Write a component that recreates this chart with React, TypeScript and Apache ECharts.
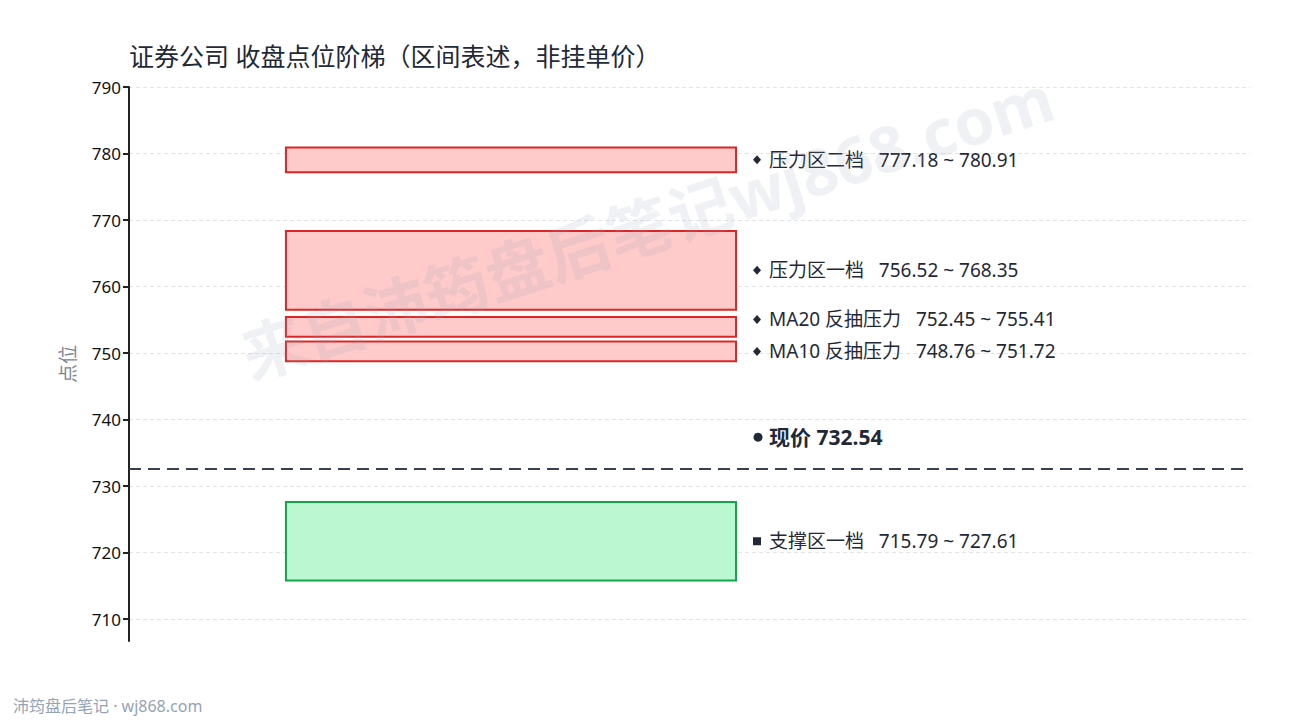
import { useEffect, useRef } from 'react'
import * as echarts from 'echarts'

// Price zones (closing-level ladder)
const zoneNames = ['压力区二档', '压力区一档', 'MA20 反抽压力', 'MA10 反抽压力', '支撑区一档']
const zoneLow = [777.18, 756.52, 752.45, 748.76, 715.79]
const zoneHigh = [780.91, 768.35, 755.41, 751.72, 727.61]
const zoneKind = ['resist', 'resist', 'resist', 'resist', 'support']
const currentPrice = 732.54
const yTicks = [710, 720, 730, 740, 750, 760, 770, 780, 790]

const FONT = '"Noto Sans", "Noto Sans CJK SC", sans-serif'
const BAND_X0 = 0.14
const BAND_X1 = 0.5415
const LABEL_GAP = 32
const TEXT_COLOR = '#1f2937'

const STYLE: Record<string, { fill: string; stroke: string }> = {
  resist: { fill: '#fecaca', stroke: '#dc2626' },
  support: { fill: '#bbf7d0', stroke: '#16a34a' },
}

// label y positions, pushed upward when they would collide
const labelYs = (api: any) => {
  const ys = zoneLow.map((lo, k) => api.coord([0, (lo + zoneHigh[k]) / 2])[1])
  const order = ys.map((_, k) => k).sort((a, b) => ys[b] - ys[a])
  for (let n = 1; n < order.length; n++) {
    const prev = ys[order[n - 1]]
    if (ys[order[n]] > prev - LABEL_GAP) ys[order[n]] = prev - LABEL_GAP
  }
  return ys
}

const App: React.FC = () => {
  const chartRef = useRef<HTMLDivElement | null>(null)

  useEffect(() => {
    if (!chartRef.current) return
    document.body.style.margin = '0'
    const chart = echarts.init(chartRef.current, null, { renderer: 'svg' })

    const option: any = {
      animation: false,
      backgroundColor: '#ffffff',
      title: {
        text: '证券公司 收盘点位阶梯（区间表述，非挂单价）',
        left: 124,
        top: 38,
        textStyle: { fontFamily: FONT, fontSize: 25, fontWeight: 'normal', color: TEXT_COLOR },
      },
      grid: { left: 129, right: 40, top: 87, bottom: 79 },
      xAxis: { type: 'value', min: 0, max: 1, show: false },
      yAxis: {
        type: 'value',
        min: 706.7,
        max: 790,
        name: '点位',
        nameLocation: 'middle',
        nameGap: 52,
        nameTextStyle: { fontFamily: FONT, fontSize: 19, color: '#7c8596' },
        axisLine: { show: true, lineStyle: { color: '#222222', width: 2 } },
        axisTick: { show: true, length: 6, lineStyle: { color: '#222222', width: 2 }, customValues: yTicks },
        axisLabel: { fontFamily: FONT, fontSize: 17, color: '#111111', margin: 8, customValues: yTicks },
        splitLine: { show: true, lineStyle: { color: '#e2e4e8', type: [4, 3] } },
      },
      graphic: [
        {
          type: 'text',
          x: 647,
          y: 226,
          rotation: (18 * Math.PI) / 180,
          z: 100,
          silent: true,
          style: {
            text: '来自沛筠盘后笔记wj868.com',
            fontFamily: FONT,
            fontSize: 64,
            fontWeight: 'bold',
            fill: 'rgba(148, 163, 184, 0.15)',
            align: 'center',
            verticalAlign: 'middle',
          },
        },
        {
          type: 'text',
          left: 13,
          top: 698,
          style: { text: '沛筠盘后笔记 · wj868.com', fontFamily: FONT, fontSize: 16, fill: '#94a3b8' },
        },
      ],
      series: [
        {
          type: 'custom',
          coordinateSystem: 'cartesian2d',
          data: zoneLow.map((lo, i) => [lo, zoneHigh[i]]),
          encode: { y: [0, 1] },
          renderItem: (params: any, api: any) => {
            const i = params.dataIndex
            const lo = api.value(0)
            const hi = api.value(1)
            const p1 = api.coord([BAND_X0, hi])
            const p2 = api.coord([BAND_X1, lo])
            const st = STYLE[zoneKind[i]]
            const ly = labelYs(api)[i]
            const mx = p2[0] + 21
            const marker =
              zoneKind[i] === 'support'
                ? { type: 'rect', shape: { x: mx - 4, y: ly - 4, width: 8, height: 8 }, style: { fill: TEXT_COLOR } }
                : {
                    type: 'polygon',
                    shape: { points: [[mx, ly - 4.5], [mx + 4, ly], [mx, ly + 4.5], [mx - 4, ly]] },
                    style: { fill: TEXT_COLOR },
                  }
            return {
              type: 'group',
              children: [
                {
                  type: 'rect',
                  shape: { x: p1[0], y: p1[1], width: p2[0] - p1[0], height: p2[1] - p1[1] },
                  style: { fill: st.fill, stroke: st.stroke, lineWidth: 2 },
                },
                marker,
                {
                  type: 'text',
                  style: {
                    text: `${zoneNames[i]}   ${lo.toFixed(2)} ~ ${hi.toFixed(2)}`,
                    x: mx + 12,
                    y: ly,
                    fill: TEXT_COLOR,
                    fontFamily: FONT,
                    fontSize: 19,
                    verticalAlign: 'middle',
                  },
                },
              ],
            }
          },
        },
        {
          type: 'custom',
          coordinateSystem: 'cartesian2d',
          data: [[currentPrice]],
          encode: { y: 0 },
          renderItem: (_params: any, api: any) => {
            const v = api.value(0)
            const p = api.coord([BAND_X1, v])
            const mx = p[0] + 22
            const ly = p[1] - LABEL_GAP
            return {
              type: 'group',
              children: [
                { type: 'circle', shape: { cx: mx, cy: ly, r: 4.5 }, style: { fill: TEXT_COLOR } },
                {
                  type: 'text',
                  style: {
                    text: `现价 ${v.toFixed(2)}`,
                    x: mx + 11,
                    y: ly,
                    fill: TEXT_COLOR,
                    fontFamily: FONT,
                    fontSize: 21,
                    fontWeight: 'bold',
                    verticalAlign: 'middle',
                  },
                },
              ],
            }
          },
          markLine: {
            silent: true,
            symbol: 'none',
            label: { show: false },
            lineStyle: { color: '#374151', width: 2, type: [12, 7] },
            data: [{ yAxis: currentPrice }],
          },
        },
      ],
    }

    chart.setOption(option)
    return () => chart.dispose()
  }, [])

  return <div ref={chartRef} style={{ width: 1290, height: 720 }} />
}

export default App
